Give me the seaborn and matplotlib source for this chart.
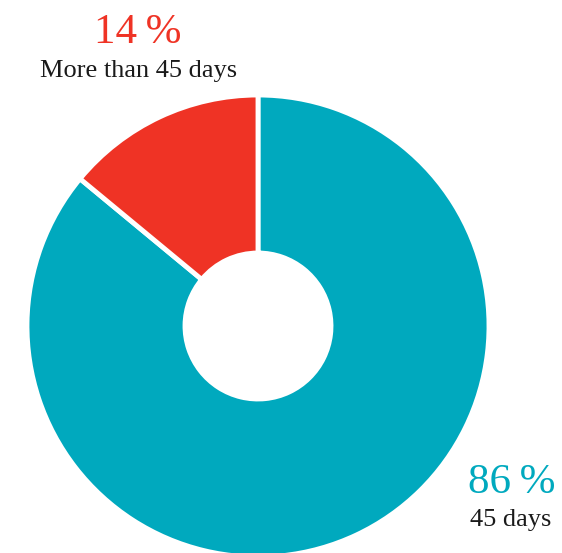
import matplotlib
matplotlib.use("Agg")
import matplotlib.pyplot as plt
import seaborn as sns

# Share of payments by delay
categories = ["45 days", "More than 45 days"]
shares = [86, 14]
colors = ["#00A9BE", "#EF3325"]
pct_labels = ["86\u2009%", "14\u2009%"]

sns.set_theme(style="white")
plt.rcParams["font.family"] = ["Liberation Serif", "DejaVu Serif"]

W, H = 562, 553
fig = plt.figure(figsize=(W / 100, H / 100), dpi=100)
ax = fig.add_axes([0, 0, 1, 1])

cx, cy = 258, H - 326
r_out, r_in = 231, 73
ax.pie(shares, colors=colors, startangle=90, counterclock=False,
       center=(cx, cy), radius=r_out, frame=True,
       wedgeprops=dict(width=r_out - r_in, edgecolor="white", linewidth=3.5))
ax.set_xlim(0, W)
ax.set_ylim(0, H)
ax.set_aspect("equal")
ax.axis("off")

# Labels
ax.text(138, H - 33, pct_labels[1], color=colors[1], fontsize=31,
        ha="center", va="center")
ax.text(139, H - 71, categories[1], color="#1a1a1a", fontsize=19,
        ha="center", va="center")
ax.text(512, H - 483, pct_labels[0], color=colors[0], fontsize=31,
        ha="center", va="center")
ax.text(511, H - 520, categories[0], color="#1a1a1a", fontsize=19,
        ha="center", va="center")

fig.savefig("out.png", dpi=100)
